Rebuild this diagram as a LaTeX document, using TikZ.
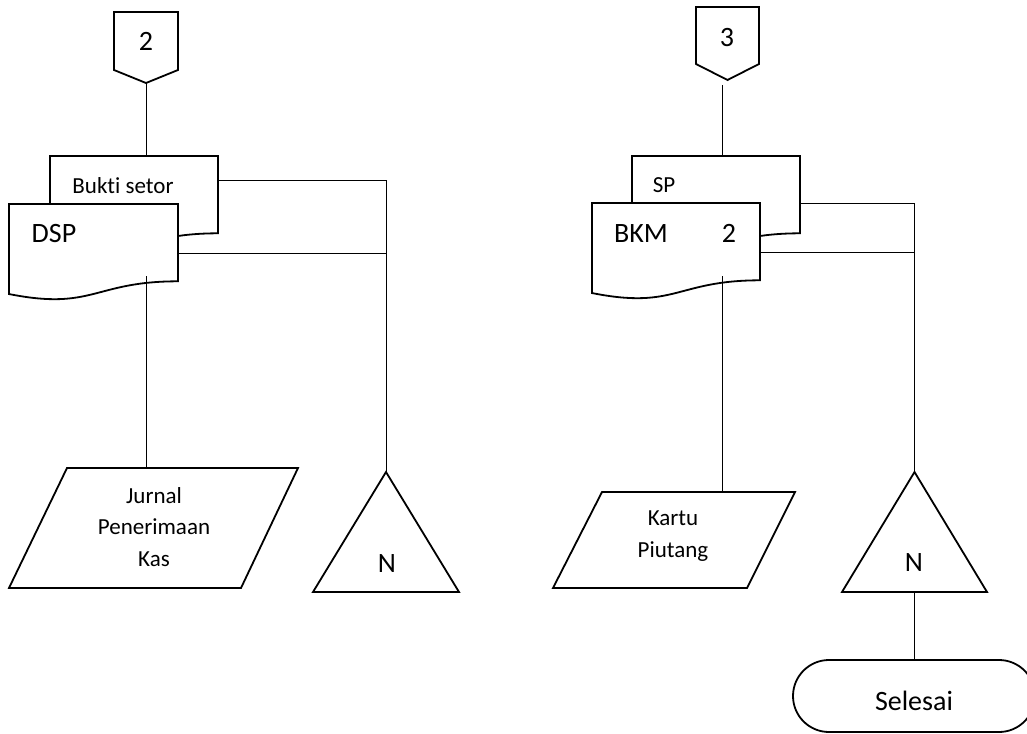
\documentclass[tikz,border=0pt]{standalone}
\usepackage{fontspec}
\setmainfont[Ligatures=NoCommon]{Carlito}
\usetikzlibrary{calc}
\begin{document}
\begin{tikzpicture}[x=1pt,y=-1pt,
  outline/.style={line width=1.8pt, line join=miter, fill=white},
  conn/.style={line width=1pt},
  frame/.style={draw=none, inner sep=0pt, outer sep=0pt},
  bigtxt/.style={font=\fontsize{28}{32}\selectfont, inner sep=0pt, anchor=base},
  smalltxt/.style={font=\fontsize{23}{31.5}\selectfont, inner sep=0pt, anchor=base, align=center},
]
\clip (0,0) rectangle (1027,733);
\fill[white] (0,0) rectangle (1027,733);

% ---------- frames ----------
\node[frame, minimum width=64pt, minimum height=71pt] (off2) at (146,47.5) {};
\node[frame, minimum width=63pt, minimum height=73pt] (off3) at (727.5,43.5) {};
\node[frame, minimum width=168pt, minimum height=96.4pt] (bukti) at (134,204.2) {};
\node[frame, minimum width=169pt, minimum height=96.4pt] (dsp) at (93.5,252.2) {};
\node[frame, minimum width=168pt, minimum height=96.4pt] (sp) at (716,204.2) {};
\node[frame, minimum width=168pt, minimum height=96.4pt] (bkm) at (676,251.2) {};
\node[frame, minimum width=289pt, minimum height=120pt] (jurnal) at (153.5,528) {};
\node[frame, minimum width=242pt, minimum height=96pt] (kartu) at (674,540) {};
\node[frame, minimum width=146pt, minimum height=120pt] (tri1) at (386,532) {};
\node[frame, minimum width=145pt, minimum height=120pt] (tri2) at (914.5,532) {};

% ---------- off-page connectors ----------
\draw[outline] (off2.north west) -- (off2.north east) -- ($(off2.north east)+(0,58)$)
  -- (off2.south) -- ($(off2.north west)+(0,58)$) -- cycle;
\draw[outline] (off3.north west) -- (off3.north east) -- ($(off3.north east)+(0,57)$)
  -- (off3.south) -- ($(off3.north west)+(0,57)$) -- cycle;
\node[bigtxt] (off2t) at (146,51) {2};
\node[bigtxt] (off3t) at (727,47) {3};

% ---------- documents ----------
\newcommand\docpath[1]{%
  \draw[outline] (#1.north west) -- (#1.north east)
    -- ($(#1.north east)!0.802!(#1.south east)$)
    .. controls ($(#1.north)!0.802!(#1.south)$) and ($(#1.north)!1.108!(#1.south)$)
    .. ($(#1.north west)!0.934!(#1.south west)$) -- cycle;}
\docpath{bukti}
\docpath{dsp}
\docpath{sp}
\docpath{bkm}
\node[smalltxt] (buktit) at (123,193) {Bukti setor};
\node[bigtxt] (dspt) at (54,242) {DSP};
\node[smalltxt] (spt) at (664,192) {SP};
\node[bigtxt] (bkmt) at (641,242) {BKM};
\node[bigtxt] (bkmn) at (729,242) {2};

% ---------- parallelograms ----------
\draw[outline] ($(jurnal.north west)+(58,0)$) -- (jurnal.north east)
  -- ($(jurnal.south east)+(-57,0)$) -- (jurnal.south west) -- cycle;
\node[smalltxt] (jurnalt) at (154,566) {Jurnal\\Penerimaan\\Kas};
\draw[outline] ($(kartu.north west)+(49,0)$) -- (kartu.north east)
  -- ($(kartu.south east)+(-48,0)$) -- (kartu.south west) -- cycle;
\node[smalltxt] (kartut) at (673,557) {Kartu\\Piutang};

% ---------- triangles ----------
\draw[outline] (tri1.south west) -- (tri1.north) -- (tri1.south east) -- cycle;
\draw[outline] (tri2.south west) -- (tri2.north) -- (tri2.south east) -- cycle;
\node[bigtxt] (n1) at (387,572) {N};
\node[bigtxt] (n2) at (914,571) {N};

% ---------- terminal ----------
\node[draw, line width=1.8pt, rounded corners=36pt, minimum width=242pt,
      minimum height=72pt, inner sep=0pt] (selesai) at (914,696) {};
\node[bigtxt] (selesait) at (914,710) {Selesai};

% ---------- connectors ----------
\coordinate (j1) at (386,180);
\coordinate (j2) at (386,253);
\coordinate (d1) at (146,276);
\coordinate (c3) at (722,85);
\coordinate (j3) at (914.5,203);
\coordinate (j4) at (914.5,252);
\coordinate (d2) at (722,276);

\draw[conn] (off2.south) -- (off2.south |- bukti.north);
\draw[conn] (bukti.east |- j1) -- (j1) -- (tri1.north);
\draw[conn] (dsp.east |- j2) -- (j2);
\draw[conn] (d1) -- (d1 |- jurnal.north);

\draw[conn] (c3) -- (c3 |- sp.north);
\draw[conn] (sp.east |- j3) -- (j3) -- (tri2.north);
\draw[conn] (bkm.east |- j4) -- (j4);
\draw[conn] (d2) -- (d2 |- kartu.north);
\draw[conn] (tri2.south) -- (tri2.south |- selesai.north);
\end{tikzpicture}
\end{document}
